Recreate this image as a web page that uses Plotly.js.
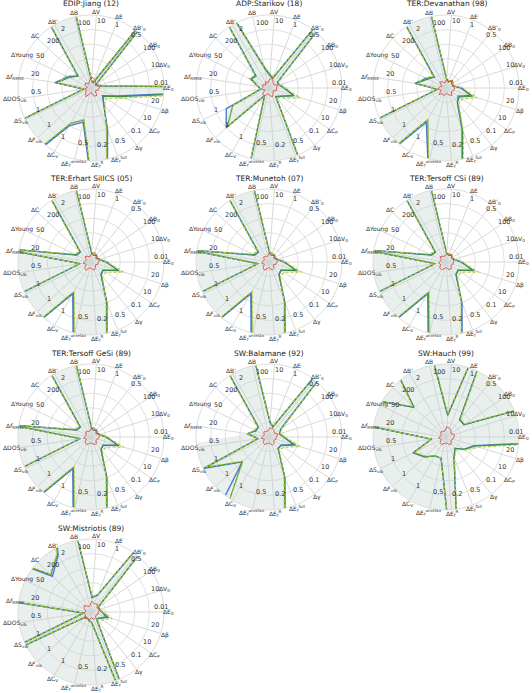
<!DOCTYPE html>
<html>
<head>
<meta charset="utf-8">
<script src="https://cdn.plot.ly/plotly-3.0.1.min.js"></script>
<style>
  body { margin: 0; background: #fff; }
  #chart { width: 532px; height: 693px; }
</style>
</head>
<body>
<div id="chart"></div>
<script>
// axes, counterclockwise starting at east (ΔE0)
const axisLabels = ['ΔE<sub>0</sub>', 'ΔV<sub>0</sub>', 'ΔB<sub>0</sub>', "ΔB'<sub>0</sub>", 'ΔE', 'ΔV', 'ΔB', "ΔB'", 'ΔC', 'ΔYoung',
    'Δ<i>f</i><sub>RMSE</sub>', 'ΔDOS<sub>vib</sub>', 'ΔS<sub>vib</sub>', 'Δ<i>F</i><sub>vib</sub>', 'ΔC<sub>V</sub>',
    'ΔE<sub>f</sub><sup>unrelax</sup>', 'ΔE<sub>f</sub><sup>R</sup>', 'ΔE<sub>f</sub><sup>full</sup>', 'Δγ', 'ΔC<sub>P</sub>', 'Δβ'];
// scale value written on each spoke
const axisTicks = ['0.01', '10', '100', '0.5', '1', '10', '100', '2', '200', '50', '20', '0.5', '1', '1', '1', '0.5', '0.2', '0.5', '0.1', '10', '20'];

const titles = ['EDIP:Jiang (12)', 'ADP:Starikov (18)', 'TER:Devanathan (98)', 'TER:Erhart SiIICS (05)', 'TER:Munetoh (07)',
    'TER:Tersoff CSi (89)', 'TER:Tersoff GeSi (89)', 'SW:Balamane (92)', 'SW:Hauch (99)', 'SW:Mistriotis (89)'];

// normalised errors (1 = outer ring, larger values run off the plot)
const jiangBlue  = [3, 0.1, 0.08, 3, 0.08, 0.1, 3, 3, 0.25, 0.35, 0.5, 0.1, 3, 3, 0.6, 0.48, 3, 0.62, 0.28, 0.19, 0.37];
const jiangGreen = [3, 0.1, 0.08, 3, 0.08, 0.1, 3, 3, 0.24, 0.33, 0.48, 0.1, 3, 3, 0.56, 0.45, 3, 0.6, 0.28, 0.2, 0.4];
const jiangDash  = [3, 0.11, 0.09, 3, 0.09, 0.11, 3, 3, 0.26, 0.38, 0.46, 0.1, 3, 3, 0.55, 0.44, 3, 0.57, 0.3, 0.25, 0.47];
const jiangRed   = [0.11, 0.14, 0.07, 0.1, 0.13, 0.15, 0.1, 0.06, 0.1, 0.09, 0.05, 0.09, 0.07, 0.1, 0.14, 0.08, 0.06, 0.12, 0.13, 0.07, 0.1];
const jiangFill  = [3, 0.11, 0.09, 3, 0.09, 0.11, 3, 3, 0.26, 0.38, 0.5, 0.1, 3, 3, 0.6, 0.48, 3, 0.62, 0.3, 0.25, 0.47];

const starikovBlue  = [0.22, 0.15, 0.14, 3, 0.15, 0.18, 0.3, 3, 0.25, 0.28, 0.15, 0.12, 0.65, 0.8, 0.12, 3, 3, 3, 0.15, 0.2, 0.35];
const starikovGreen = [0.2, 0.14, 0.14, 3, 0.14, 0.17, 0.28, 3, 0.24, 0.27, 0.15, 0.12, 0.55, 0.78, 0.12, 3, 3, 3, 0.15, 0.2, 0.36];
const starikovDash  = [0.22, 0.15, 0.15, 3, 0.16, 0.2, 0.3, 3, 0.26, 0.3, 0.16, 0.12, 0.55, 0.76, 0.13, 3, 3, 3, 0.16, 0.25, 0.45];
const starikovRed   = [0.1, 0.13, 0.08, 0.09, 0.14, 0.12, 0.07, 0.1, 0.06, 0.1, 0.08, 0.11, 0.06, 0.12, 0.13, 0.08, 0.1, 0.13, 0.09, 0.07, 0.11];
const starikovFill  = [0.22, 0.15, 0.15, 3, 0.16, 0.2, 0.3, 3, 0.26, 0.3, 0.16, 0.12, 0.65, 0.8, 0.13, 3, 3, 3, 0.16, 0.25, 0.45];

const devanathanBlue  = [0.22, 0.1, 0.1, 0.12, 0.1, 0.12, 3, 3, 0.22, 0.3, 0.43, 0.12, 3, 3, 0.54, 1.1, 3, 0.6, 0.25, 0.2, 0.35];
const devanathanGreen = [0.2, 0.1, 0.1, 0.12, 0.1, 0.12, 3, 3, 0.22, 0.28, 0.42, 0.12, 3, 3, 0.5, 1.1, 3, 0.62, 0.25, 0.22, 0.38];
const devanathanDash  = [0.22, 0.11, 0.11, 0.13, 0.11, 0.13, 3, 3, 0.24, 0.33, 0.4, 0.12, 3, 3, 0.5, 1.05, 3, 0.66, 0.28, 0.27, 0.45];
const devanathanRed   = [0.12, 0.09, 0.12, 0.14, 0.08, 0.12, 0.07, 0.1, 0.12, 0.06, 0.09, 0.11, 0.07, 0.13, 0.09, 0.11, 0.07, 0.1, 0.13, 0.09, 0.11];
const devanathanFill  = [0.22, 0.11, 0.11, 0.13, 0.11, 0.13, 3, 3, 0.24, 0.33, 0.43, 0.12, 3, 3, 0.54, 1.1, 3, 0.66, 0.28, 0.27, 0.45];

const erhartBlue  = [0.22, 0.12, 0.1, 0.12, 0.1, 0.12, 3, 3, 0.2, 0.22, 1.3, 0.15, 3, 3, 0.5, 1.1, 3, 0.6, 0.22, 0.2, 0.38];
const erhartGreen = [0.2, 0.12, 0.1, 0.12, 0.1, 0.12, 3, 3, 0.2, 0.22, 1.3, 0.15, 3, 3, 0.48, 1.05, 3, 0.58, 0.22, 0.2, 0.4];
const erhartDash  = [0.22, 0.13, 0.11, 0.13, 0.11, 0.13, 3, 3, 0.22, 0.25, 1.25, 0.15, 3, 3, 0.46, 1.0, 3, 0.56, 0.25, 0.25, 0.47];
const erhartRed   = [0.1, 0.13, 0.08, 0.11, 0.14, 0.12, 0.07, 0.09, 0.11, 0.07, 0.08, 0.11, 0.07, 0.12, 0.13, 0.08, 0.09, 0.12, 0.1, 0.07, 0.1];
const erhartFill  = [0.22, 0.13, 0.11, 0.13, 0.11, 0.13, 3, 3, 0.22, 0.25, 1.3, 3, 3, 3, 0.5, 1.1, 3, 0.6, 0.25, 0.25, 0.47];

const munetohBlue  = [0.22, 0.12, 0.1, 0.12, 0.1, 0.12, 3, 3, 0.2, 0.22, 1.1, 0.15, 3, 3, 0.5, 1.1, 3, 0.6, 0.22, 0.2, 0.38];
const munetohGreen = [0.2, 0.12, 0.1, 0.12, 0.1, 0.12, 3, 3, 0.2, 0.22, 1.1, 0.15, 3, 3, 0.48, 1.05, 3, 0.58, 0.22, 0.2, 0.4];
const munetohDash  = [0.22, 0.13, 0.11, 0.13, 0.11, 0.13, 3, 3, 0.22, 0.25, 1.05, 0.15, 3, 3, 0.46, 1.0, 3, 0.56, 0.25, 0.25, 0.47];
const munetohRed   = [0.11, 0.12, 0.08, 0.11, 0.13, 0.14, 0.08, 0.09, 0.1, 0.07, 0.08, 0.1, 0.07, 0.11, 0.13, 0.09, 0.08, 0.12, 0.11, 0.07, 0.1];
const munetohFill  = [0.22, 0.13, 0.11, 0.13, 0.11, 0.13, 3, 3, 0.22, 0.25, 1.1, 3, 3, 3, 0.5, 1.1, 3, 0.6, 0.25, 0.25, 0.47];

const tersoffCSiBlue  = [0.22, 0.12, 0.1, 0.12, 0.1, 0.12, 3, 3, 0.2, 0.22, 1.1, 0.15, 3, 3, 0.5, 1.1, 3, 0.6, 0.22, 0.2, 0.38];
const tersoffCSiGreen = [0.2, 0.12, 0.1, 0.12, 0.1, 0.12, 3, 3, 0.2, 0.22, 1.1, 0.15, 3, 3, 0.48, 1.05, 3, 0.58, 0.22, 0.2, 0.4];
const tersoffCSiDash  = [0.22, 0.13, 0.11, 0.13, 0.11, 0.13, 3, 3, 0.22, 0.25, 1.05, 0.15, 3, 3, 0.46, 1.0, 3, 0.56, 0.25, 0.25, 0.47];
const tersoffCSiRed   = [0.1, 0.11, 0.09, 0.13, 0.12, 0.12, 0.08, 0.09, 0.11, 0.07, 0.08, 0.1, 0.08, 0.12, 0.12, 0.09, 0.08, 0.11, 0.12, 0.08, 0.1];
const tersoffCSiFill  = [0.22, 0.13, 0.11, 0.13, 0.11, 0.13, 3, 3, 0.22, 0.25, 1.1, 3, 3, 3, 0.5, 1.1, 3, 0.6, 0.25, 0.25, 0.47];

const tersoffGeSiBlue  = [0.22, 0.12, 0.1, 0.12, 0.1, 0.12, 3, 3, 0.2, 0.22, 1.1, 0.15, 3, 3, 0.5, 1.1, 3, 0.6, 0.22, 0.2, 0.38];
const tersoffGeSiGreen = [0.2, 0.12, 0.1, 0.12, 0.1, 0.12, 3, 3, 0.2, 0.22, 1.1, 0.15, 3, 3, 0.48, 1.05, 3, 0.58, 0.22, 0.2, 0.4];
const tersoffGeSiDash  = [0.22, 0.13, 0.11, 0.13, 0.11, 0.13, 3, 3, 0.22, 0.25, 1.05, 0.15, 3, 3, 0.46, 1.0, 3, 0.56, 0.25, 0.25, 0.47];
const tersoffGeSiRed   = [0.11, 0.12, 0.08, 0.11, 0.13, 0.13, 0.08, 0.09, 0.1, 0.07, 0.08, 0.1, 0.07, 0.11, 0.12, 0.09, 0.08, 0.11, 0.12, 0.08, 0.1];
const tersoffGeSiFill  = [0.22, 0.13, 0.11, 0.13, 0.11, 0.13, 3, 3, 0.22, 0.25, 1.1, 3, 3, 3, 0.5, 1.1, 3, 0.6, 0.25, 0.25, 0.47];

const balamaneBlue  = [0.2, 0.15, 0.2, 3, 0.15, 0.2, 3, 3, 0.2, 0.2, 0.3, 0.15, 1.0, 0.5, 3, 3, 3, 0.6, 0.2, 0.2, 0.35];
const balamaneGreen = [0.2, 0.15, 0.2, 3, 0.15, 0.2, 3, 3, 0.2, 0.2, 0.3, 0.15, 0.95, 0.5, 1.2, 3, 3, 0.58, 0.2, 0.2, 0.38];
const balamaneDash  = [0.22, 0.16, 0.21, 3, 0.16, 0.21, 3, 3, 0.22, 0.22, 0.3, 0.15, 0.95, 0.48, 1.2, 3, 3, 0.56, 0.22, 0.25, 0.45];
const balamaneRed   = [0.1, 0.13, 0.09, 0.11, 0.13, 0.12, 0.08, 0.09, 0.1, 0.07, 0.08, 0.11, 0.07, 0.11, 0.12, 0.09, 0.08, 0.12, 0.11, 0.08, 0.1];
const balamaneFill  = [0.22, 0.16, 0.21, 3, 0.16, 0.21, 3, 3, 0.22, 0.22, 0.3, 3, 3, 3, 3, 3, 3, 0.6, 0.22, 0.25, 0.45];

const hauchBlue  = [3, 3, 0.3, 0.3, 3, 0.3, 3, 3, 0.6, 1.2, 1.2, 0.2, 0.5, 0.4, 0.3, 0.3, 3, 0.3, 0.2, 0.3, 0.4];
const hauchGreen = [3, 3, 0.3, 0.3, 3, 0.3, 3, 3, 0.6, 1.2, 1.2, 0.2, 0.5, 0.4, 0.3, 0.3, 3, 0.3, 0.2, 0.3, 0.42];
const hauchDash  = [3, 3, 0.32, 0.32, 3, 0.32, 3, 3, 0.62, 1.15, 1.15, 0.2, 0.48, 0.38, 0.3, 0.3, 3, 0.32, 0.22, 0.32, 0.47];
const hauchRed   = [0.11, 0.12, 0.08, 0.11, 0.13, 0.14, 0.08, 0.09, 0.1, 0.07, 0.08, 0.1, 0.07, 0.11, 0.12, 0.09, 0.08, 0.11, 0.12, 0.08, 0.1];
const hauchFill  = [3, 3, 3, 3, 3, 3, 3, 3, 3, 3, 3, 3, 3, 3, 3, 3, 3, 0.32, 0.22, 0.32, 0.47];

const mistriotisBlue  = [0.15, 0.12, 0.12, 3, 0.25, 0.2, 3, 0.9, 0.72, 3, 3, 0.1, 3, 0.1, 0.1, 0.12, 0.15, 3, 0.12, 0.15, 0.22];
const mistriotisGreen = [0.15, 0.12, 0.12, 3, 0.25, 0.2, 3, 0.92, 0.75, 3, 3, 0.1, 3, 0.1, 0.1, 0.12, 0.15, 3, 0.12, 0.15, 0.25];
const mistriotisDash  = [0.16, 0.13, 0.13, 3, 0.26, 0.21, 3, 0.93, 0.76, 3, 3, 0.1, 3, 0.1, 0.1, 0.12, 0.16, 3, 0.13, 0.2, 0.3];
const mistriotisRed   = [0.1, 0.13, 0.1, 0.14, 0.12, 0.15, 0.08, 0.09, 0.13, 0.1, 0.07, 0.1, 0.08, 0.13, 0.1, 0.11, 0.08, 0.11, 0.1, 0.08, 0.1];
const mistriotisFill  = [0.22, 0.15, 0.15, 3, 0.26, 0.25, 3, 3, 3, 3, 3, 3, 3, 3, 3, 3, 3, 3, 0.15, 0.2, 0.3];

const potentials = [
    [jiangBlue, jiangGreen, jiangDash, jiangRed, jiangFill],
    [starikovBlue, starikovGreen, starikovDash, starikovRed, starikovFill],
    [devanathanBlue, devanathanGreen, devanathanDash, devanathanRed, devanathanFill],
    [erhartBlue, erhartGreen, erhartDash, erhartRed, erhartFill],
    [munetohBlue, munetohGreen, munetohDash, munetohRed, munetohFill],
    [tersoffCSiBlue, tersoffCSiGreen, tersoffCSiDash, tersoffCSiRed, tersoffCSiFill],
    [tersoffGeSiBlue, tersoffGeSiGreen, tersoffGeSiDash, tersoffGeSiRed, tersoffGeSiFill],
    [balamaneBlue, balamaneGreen, balamaneDash, balamaneRed, balamaneFill],
    [hauchBlue, hauchGreen, hauchDash, hauchRed, hauchFill],
    [mistriotisBlue, mistriotisGreen, mistriotisDash, mistriotisRed, mistriotisFill]
];

const W = 532, H = 693, R = 73;
const labelR = 77;   // px, centre of the category names
const tickR = 62;    // px, anchor of the scale numbers
const colX = [91, 269, 446];
const rowY = [88, 262, 437, 612];
const theta = axisLabels.map((_, i) => i * 360 / axisLabels.length);
const close = a => a.concat([a[0]]);

const data = [];
const layout = {
    width: W, height: H,
    margin: {l: 0, r: 0, t: 0, b: 0},
    paper_bgcolor: '#fff',
    showlegend: false,
    font: {family: 'DejaVu Sans', size: 6, color: '#333'},
    annotations: []
};

potentials.forEach((p, k) => {
    const name = k === 0 ? 'polar' : 'polar' + (k + 1);
    const cx = colX[k % 3], cy = rowY[Math.floor(k / 3)];
    const [blue, green, dash, red, fill] = p;

    data.push({type: 'scatterpolar', subplot: name, r: close(fill), theta: close(theta), mode: 'lines',
        fill: 'toself', fillcolor: 'rgba(190,210,200,0.35)', line: {width: 0}, hoverinfo: 'skip'});
    data.push({type: 'scatterpolar', subplot: name, r: close(blue), theta: close(theta), mode: 'lines',
        line: {color: '#4a7dd6', width: 1.4}});
    data.push({type: 'scatterpolar', subplot: name, r: close(green), theta: close(theta), mode: 'lines',
        line: {color: '#3f8f46', width: 1.1}});
    data.push({type: 'scatterpolar', subplot: name, r: close(dash), theta: close(theta), mode: 'lines',
        line: {color: '#b8cc33', width: 1.1, dash: '3px,2px'}});
    data.push({type: 'scatterpolar', subplot: name, r: close(red), theta: close(theta), mode: 'lines',
        line: {color: '#d9534f', width: 0.9}});

    layout[name] = {
        domain: {x: [(cx - R) / W, (cx + R) / W], y: [1 - (cy + R) / H, 1 - (cy - R) / H]},
        bgcolor: '#fff',
        radialaxis: {range: [0, 1], tickvals: [0.2, 0.4, 0.6, 0.8, 1.0], showticklabels: false, ticks: '',
            showline: false, gridcolor: '#e0e0e0', gridwidth: 0.8},
        angularaxis: {tickmode: 'array', tickvals: theta, showticklabels: false, rotation: 0,
            direction: 'counterclockwise', ticks: '', gridcolor: '#d8d8d8', gridwidth: 0.8,
            linecolor: '#dcdcdc'}
    };

    axisLabels.forEach((lab, i) => {
        const a = theta[i] * Math.PI / 180;
        // category names, centred just outside the rim
        layout.annotations.push({text: lab, xref: 'paper', yref: 'paper',
            x: (cx + labelR * Math.cos(a)) / W, y: 1 - (cy - labelR * Math.sin(a)) / H,
            showarrow: false, xanchor: 'center', yanchor: 'middle', font: {size: 6, color: '#333'}});
        // scale number, starting on the spoke
        layout.annotations.push({text: axisTicks[i], xref: 'paper', yref: 'paper',
            x: (cx + tickR * Math.cos(a)) / W, y: 1 - (cy - tickR * Math.sin(a)) / H,
            showarrow: false, xanchor: 'left', yanchor: 'bottom', borderpad: 0,
            font: {size: 6.5, color: '#333'}});
    });

    layout.annotations.push({text: titles[k], xref: 'paper', yref: 'paper', x: cx / W,
        y: 1 - (cy - 84) / H, showarrow: false, xanchor: 'center', yanchor: 'middle',
        font: {size: 7.5, color: '#222'}});
});

Plotly.newPlot('chart', data, layout, {displayModeBar: false});
</script>
</body>
</html>
